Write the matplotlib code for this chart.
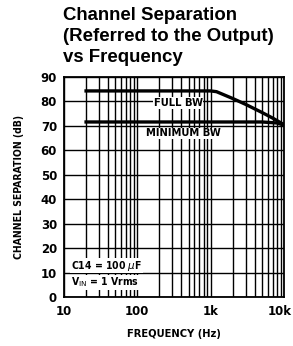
import matplotlib.pyplot as plt
import matplotlib.transforms as mtransforms
import numpy as np

freq_full = np.array([20, 500, 1000, 1200, 2000, 3000, 5000, 7000, 10000])
sep_full = np.array([84.3, 84.3, 84.3, 84.0, 81.2, 78.8, 75.5, 73.2, 70.5])

freq_min = np.array([20, 1000, 5000, 8000, 10000])
sep_min = np.array([71.6, 71.6, 71.6, 71.2, 70.3])

xticks = [10, 100, 1000, 10000]
xticklabels = ['10', '100', '1k', '10k']
yticks = np.arange(0, 100, 10)

fig = plt.figure(figsize=(2.93, 3.46), dpi=100)
ax = fig.add_axes([64/293, 1-297/346, 220/293, 220/346])

ax.set_xscale('log')
ax.set_xlim(10, 10000)
ax.set_ylim(0, 90)

ax.grid(True, which='both', axis='x', color='black', lw=1.0)
ax.grid(True, which='major', axis='y', color='black', lw=1.0)
ax.set_axisbelow(True)

ax.plot(freq_full, sep_full, color='black', lw=2.4)
ax.plot(freq_min, sep_min, color='black', lw=2.4)

bold = dict(fontweight='bold', fontstretch='condensed', family='DejaVu Sans')
box = dict(facecolor='white', edgecolor='none', pad=0.5)
ax.text(360, 79.3, 'FULL BW', ha='center', va='center', fontsize=8, bbox=box, **bold)
ax.text(420, 67, 'MINIMUM BW', ha='center', va='center', fontsize=8, bbox=box, **bold)
ax.text(12.5, 12.8, r'C14 = 100 $\mu$F', ha='left', va='center', fontsize=7.5, bbox=box, **bold)
ax.text(12.5, 6, r'V$_{\rm IN}$ = 1 Vrms', ha='left', va='center', fontsize=7.5, bbox=box, **bold)

ax.set_xticks(xticks)
ax.set_xticklabels(xticklabels)
ax.set_yticks(yticks)
ax.tick_params(which='both', length=0)
ax.tick_params(axis='x', pad=6)
ax.tick_params(axis='y', pad=5)
for lab in ax.get_xticklabels() + ax.get_yticklabels():
    lab.set_fontweight('bold')
    lab.set_fontsize(8.5)
last = ax.get_xticklabels()[-1]
last.set_transform(last.get_transform() +
                   mtransforms.ScaledTranslation(-4/100, 0, fig.dpi_scale_trans))

for s in ax.spines.values():
    s.set_linewidth(1.3)

ax.set_xlabel('FREQUENCY (Hz)', fontsize=8, labelpad=8, **bold)
ax.set_ylabel('CHANNEL SEPARATION (dB)', fontsize=7.5, labelpad=12, **bold)

fig.text(63/293, 1-7/346, 'Channel Separation\n(Referred to the Output)\nvs Frequency',
         ha='left', va='top', fontsize=13.4, fontweight='bold',
         family='Liberation Sans', linespacing=1.32)

fig.savefig('out.png', dpi=100)
